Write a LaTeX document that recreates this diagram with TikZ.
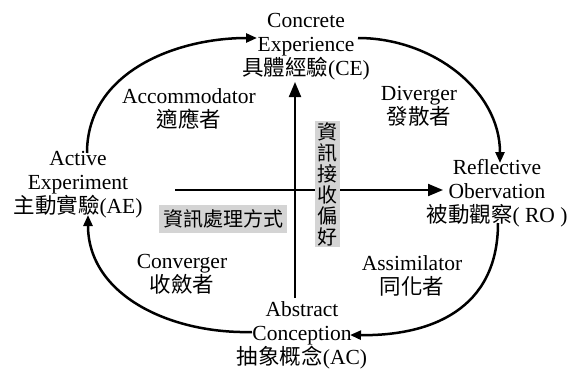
\documentclass[tikz,border=0pt]{standalone}
\usepackage{fontspec}
\setmainfont{Liberation Serif}
\newfontfamily\cjk{Noto Sans CJK TC}
\usetikzlibrary{arrows.meta}
\tikzset{
  lbl/.style={align=center, inner sep=0pt, anchor=base, font=\fontsize{21.5}{24}\selectfont},
  cyc/.style={line width=2.5pt, -{Triangle[length=11pt,width=9pt]}},
  axis/.style={line width=2pt, -{Triangle[length=15pt,width=12pt]}},
  graybox/.style={fill=black!17, inner sep=0pt, font=\fontsize{20}{21}\selectfont\cjk}
}
\begin{document}
\begin{tikzpicture}[x=1pt,y=-1pt]
\useasboundingbox (0,0) rectangle (568,370);
% stage nodes (anchor base = baseline of last line)
\node[lbl] (CE) at (306,75) {Concrete\\Experience\\{\cjk 具體經驗}(CE)};
\node[lbl] (AE) at (78,213) {Active\\Experiment\\{\cjk 主動實驗}(AE)};
\node[lbl] (RO) at (497,222) {Reflective\\Obervation\\{\cjk 被動觀察}( RO )};
\node[lbl] (AC) at (302,364) {Abstract\\Conception\\{\cjk 抽象概念}(AC)};
% style labels
\node[lbl] (acc) at (189,127) {Accommodator\\{\cjk 適應者}};
\node[lbl] (div) at (419,124) {Diverger\\{\cjk 發散者}};
\node[lbl] (con) at (182,292) {Converger\\{\cjk 收斂者}};
\node[lbl] (ass) at (412,294) {Assimilator\\{\cjk 同化者}};
% connector end points
\coordinate (AEtop) at (87,153);
\coordinate (CEleft) at (257,38);
\coordinate (CEright) at (358,38);
\coordinate (ROtop) at (500,163);
\coordinate (RObot) at (498,223);
\coordinate (ACright) at (350,335);
\coordinate (ACleft) at (252,332);
\coordinate (AEbot) at (88,215);
% cycle arcs
\draw[cyc] (AEtop) .. controls (87,72) and (176,38) .. (CEleft);
\draw[cyc] (CEright) .. controls (432,38) and (500,90) .. (ROtop);
\draw[cyc] (RObot) .. controls (498,310) and (430,336) .. (ACright);
\draw[cyc] (ACleft) .. controls (170,334) and (88,295) .. (AEbot);
% axes
\coordinate (vbot) at (295,298);
\coordinate (vtop) at (295,82);
\coordinate (hl) at (175,190);
\coordinate (hr) at (443,190);
\draw[axis] (vbot) -- (vtop);
\draw[axis] (hl) -- (hr);
% gray labels
\node[graybox, minimum width=128pt, minimum height=28pt] (proc) at (223,219) {資訊處理方式};
\node[graybox, minimum width=25pt, minimum height=126pt, align=center] (pref) at (327.5,184) {資\\訊\\接\\收\\偏\\好};
\end{tikzpicture}
\end{document}
